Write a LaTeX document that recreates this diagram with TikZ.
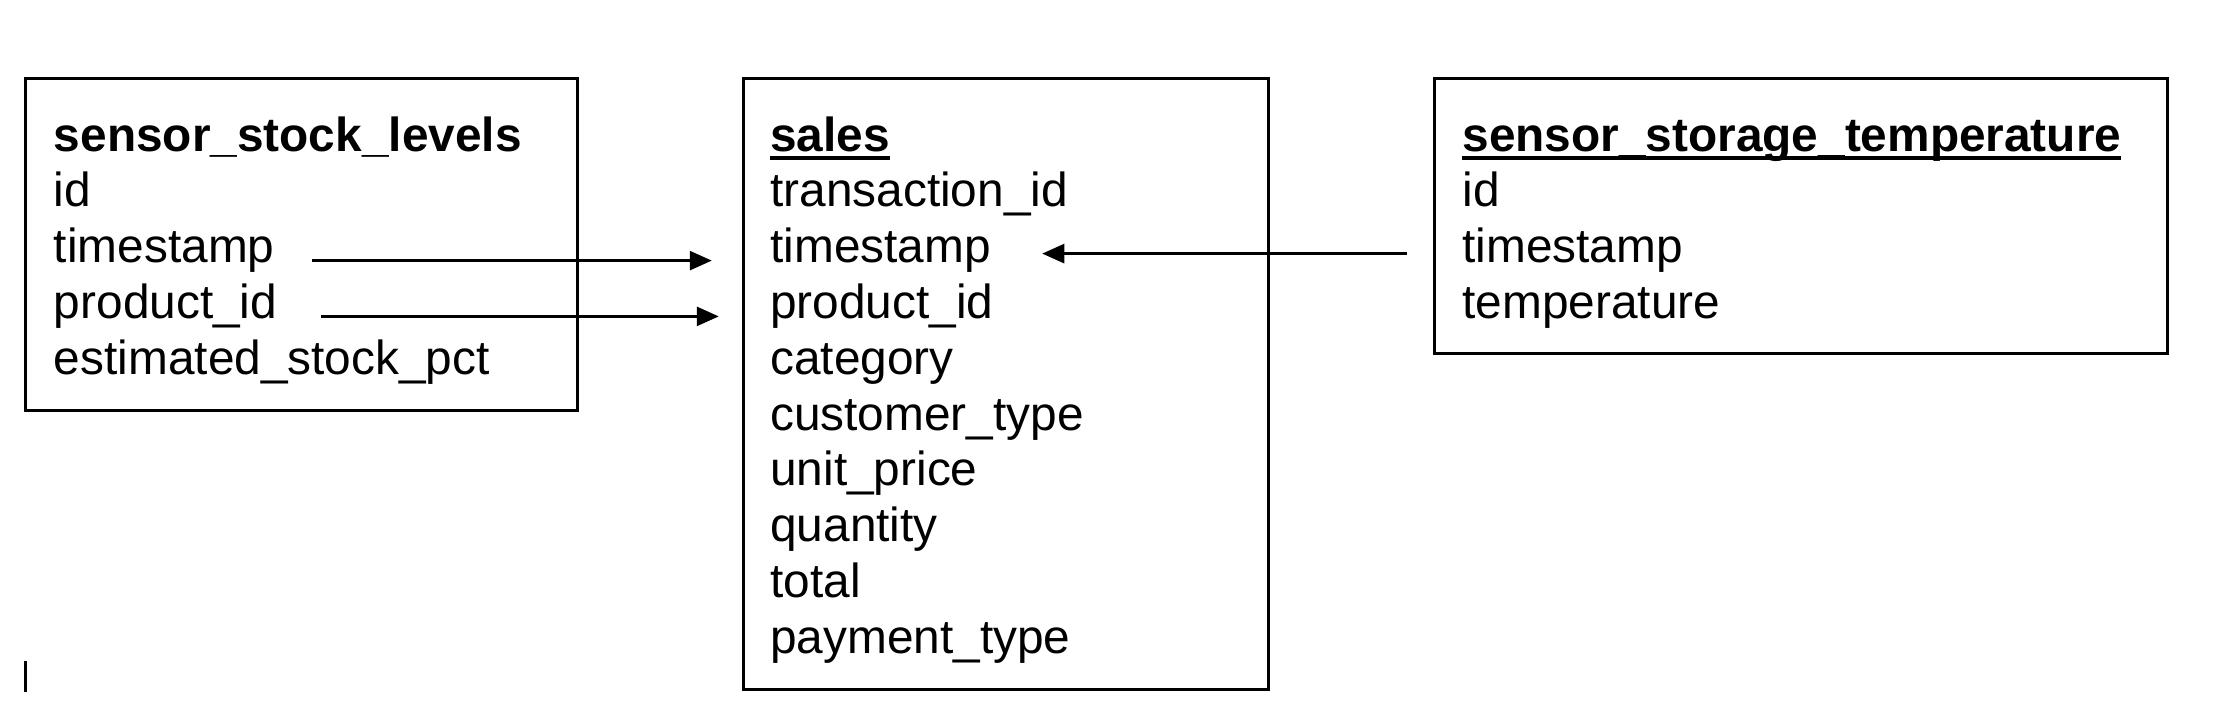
\documentclass[tikz,border=0pt]{standalone}
\usepackage{fontspec}
\setmainfont{Liberation Sans}
\usetikzlibrary{arrows.meta,positioning}

% bold table name with a flat underline
\newcommand{\tblhead}[1]{\setbox0\hbox{\bfseries #1}\rlap{\rule[-0.19em]{\wd0}{0.085em}}\box0}

\begin{document}
\begin{tikzpicture}[>={Triangle[length=0.22cm,width=0.19cm]}, line width=0.85pt,
  tbl/.style={draw, inner sep=0pt},
  field/.style={anchor=base west, inner sep=0pt, font=\fontsize{13.6}{16}\selectfont}]
  \useasboundingbox (0,0) rectangle (22.24,-7.24);
  \node[tbl, minimum width=5.52cm, minimum height=3.32cm] (ssl) at (3.014,-2.44) {};
  \node[tbl, minimum width=5.25cm, minimum height=6.11cm] (sales) at (10.056,-3.837) {};
  \node[tbl, minimum width=7.33cm, minimum height=2.75cm] (sst) at (18.007,-2.156) {};
  \foreach \f [count=\i from 0] in {\textbf{sensor\_stock\_levels}, id, timestamp, product\_id, estimated\_stock\_pct}
    \node[field] (ssl-\i) at (0.525,{-1.51-0.558*\i}) {\f};
  \foreach \f [count=\i from 0] in {\tblhead{sales}, transaction\_id, timestamp, product\_id, category, customer\_type, unit\_price, quantity, total, payment\_type}
    \node[field] (sales-\i) at (7.688,{-1.51-0.558*\i}) {\f};
  \foreach \f [count=\i from 0] in {\tblhead{sensor\_storage\_temperature}, id, timestamp, temperature}
    \node[field] (sst-\i) at (14.61,{-1.51-0.558*\i}) {\f};
  \draw[->, line width=0.75pt] ([xshift=0.36cm,yshift=0.02cm]ssl-2.base east) -- ([xshift=-0.57cm,yshift=0.02cm]sales-2.base west);
  \draw[->, line width=0.75pt] ([xshift=0.42cm,yshift=0.02cm]ssl-3.base east) -- ([xshift=-0.50cm,yshift=0.02cm]sales-3.base west);
  \draw[->, line width=0.75pt] ([xshift=-0.54cm,yshift=0.09cm]sst-2.base west) -- ([xshift=0.50cm,yshift=0.09cm]sales-2.base east);
  \draw[line width=0.7pt] (0.255,-6.61) -- (0.255,-6.92);
\end{tikzpicture}
\end{document}
